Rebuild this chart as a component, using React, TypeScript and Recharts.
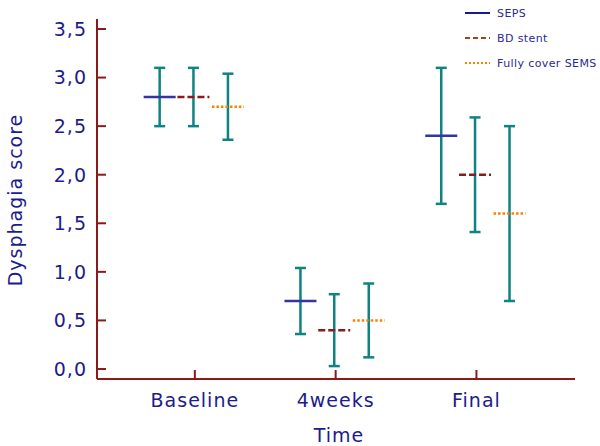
import React from 'react';
import { ScatterChart, Scatter, XAxis, YAxis, ErrorBar, Legend } from 'recharts';

// ---- data ----
const categories = ['Baseline', '4weeks', 'Final'];
const sepsMean = [2.8, 0.7, 2.4];
const sepsErr = [0.3, 0.34, 0.7];
const bdMean = [2.8, 0.4, 2.0];
const bdErr = [0.3, 0.37, 0.59];
const semsMean = [2.7, 0.5, 1.6];
const semsErr = [0.34, 0.38, 0.9];
const yTicks = [0, 0.5, 1, 1.5, 2, 2.5, 3, 3.5];
const xTicks = [1, 2, 3];

// ---- styles ----
const AXIS = '#8b1a1a';
const TEXT = '#1c1c8c';
const TEAL = '#0f8282';
const FONT = '"DejaVu Sans", sans-serif';

const series = [
  { name: 'SEPS', mean: sepsMean, err: sepsErr, offset: -0.25, color: '#3434a2', legendColor: '#1a1a8c', dash: undefined, lw: 2.5 },
  { name: 'BD stent', mean: bdMean, err: bdErr, offset: -0.01, color: '#8b1a1a', legendColor: '#a0461e', dash: '7 3', lw: 2.5 },
  { name: 'Fully cover SEMS', mean: semsMean, err: semsErr, offset: 0.235, color: '#ff8000', legendColor: '#ff8000', dash: '2.5 2', lw: 2.5 },
];

const build = (means: number[], errs: number[], offset: number) =>
  means.map((m, i) => ({ x: xTicks[i] + offset, y: m, err: errs[i], cat: categories[i] }));

const fmt = (v: number) => v.toFixed(1).replace('.', ',');

const YTick = (props: any) => {
  const { x, y, payload } = props;
  return (
    <g>
      <line x1={x} x2={x + 9} y1={y} y2={y} stroke={AXIS} strokeWidth={2} />
      <text x={x - 10} y={y} dy="0.36em" textAnchor="end" fill={TEXT} fontSize={19} fontFamily={FONT} letterSpacing={1}>
        {fmt(payload.value)}
      </text>
    </g>
  );
};

const XTick = (props: any) => {
  const { x, y, payload } = props;
  return (
    <g>
      <line x1={x} x2={x} y1={y} y2={y - 9} stroke={AXIS} strokeWidth={2} />
      <text x={x} y={y + 21} dy="0.36em" textAnchor="middle" fill={TEXT} fontSize={19} fontFamily={FONT} letterSpacing={1}>
        {categories[payload.value - 1]}
      </text>
    </g>
  );
};

const YTitle = (props: any) => {
  const vb = props.viewBox || { x: 0, y: 19, width: 97, height: 360 };
  const cx = 15;
  const cy = vb.y + vb.height / 2 + 1;
  return (
    <text x={cx} y={cy} transform={`rotate(-90 ${cx} ${cy})`} textAnchor="middle" dominantBaseline="central"
      fill={TEXT} fontSize={19} fontFamily={FONT} letterSpacing={1}>
      Dysphagia score
    </text>
  );
};

const XTitle = (props: any) => {
  const vb = props.viewBox || { x: 97, y: 379, width: 478, height: 50 };
  return (
    <text x={vb.x + vb.width / 2 + 3} y={vb.y + 56} dominantBaseline="central" textAnchor="middle"
      fill={TEXT} fontSize={19} fontFamily={FONT} letterSpacing={1}>
      Time
    </text>
  );
};

const meanShape = (color: string, dash: string | undefined, lw: number) => (props: any) => {
  const { cx, cy } = props;
  if (cx == null || cy == null) return <g />;
  return <line x1={cx - 16} x2={cx + 16} y1={cy} y2={cy} stroke={color} strokeWidth={lw} strokeDasharray={dash} />;
};

const LegendBox = () => (
  <svg width={140} height={76}>
    {series.map((s, i) => {
      const y = 13 + i * 25;
      return (
        <g key={s.name}>
          <line x1={5} x2={30} y1={y} y2={y} stroke={s.legendColor} strokeWidth={2}
            strokeDasharray={i === 0 ? undefined : i === 1 ? '5 3' : '2 2'} />
          <text x={37} y={y} dominantBaseline="central" fill="#2a2a96" fontSize={11} fontFamily={FONT} letterSpacing={0.4}>
            {s.name}
          </text>
        </g>
      );
    })}
  </svg>
);

export default function App() {
  return (
    <div style={{ position: 'absolute', left: 0, top: 0, background: '#fff' }}>
      <ScatterChart width={600} height={446} margin={{ top: 19, right: 25, bottom: 17, left: 0 }}>
        <XAxis type="number" dataKey="x" domain={[0.305, 3.7]} ticks={xTicks} allowDataOverflow
          axisLine={{ stroke: AXIS, strokeWidth: 2 }} tickLine={false} tickSize={0} tickMargin={0}
          tick={<XTick />} height={50} interval={0} label={<XTitle />} />
        <YAxis type="number" dataKey="y" domain={[-0.103, 3.603]} ticks={yTicks} allowDataOverflow
          axisLine={{ stroke: AXIS, strokeWidth: 2 }} tickLine={false} tickSize={0} tickMargin={0}
          tick={<YTick />} width={97} interval={0} label={<YTitle />} />
        {series.map((s) => (
          <Scatter key={s.name} name={s.name} data={build(s.mean, s.err, s.offset)}
            shape={meanShape(s.color, s.dash, s.lw)} isAnimationActive={false}>
            <ErrorBar dataKey="err" direction="y" width={5.5} stroke={TEAL} strokeWidth={2.5} isAnimationActive={false} />
          </Scatter>
        ))}
        <Legend layout="vertical" align="center" verticalAlign="middle"
          wrapperStyle={{ position: 'absolute', left: 460, top: 0, width: 140, height: 76 }}
          content={() => <LegendBox />} />
      </ScatterChart>
    </div>
  );
}
